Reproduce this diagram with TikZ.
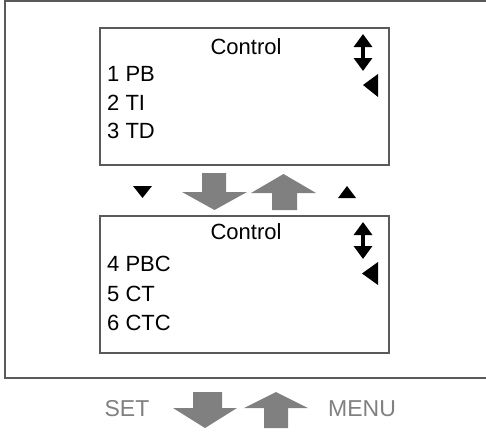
\documentclass[tikz,border=0pt]{standalone}
\usepackage{fontspec}
\setmainfont{Liberation Sans}
\usepackage{tikz}
\usetikzlibrary{positioning, arrows.meta}
\definecolor{ArrowGray}{HTML}{808080}
\definecolor{FrameGray}{HTML}{5A5A5A}
\tikzstyle{FatArrow} = [
%Grey block arrows:
fill = ArrowGray, draw = none
]

\begin{document}
\begin{tikzpicture}[x = 1pt, y = -1pt,
                    screen/.style = {draw = FrameGray, line width = 1.2pt},
                    item/.style = {anchor = west, inner sep = 0pt, font = \fontsize{22}{22}\selectfont},
                    title/.style = {inner sep = 0pt, font = \fontsize{22}{22}\selectfont},
                    key/.style = {inner sep = 0pt, text = ArrowGray, font = \fontsize{23}{23}\selectfont},
                    scroll/.style = {line width = 4pt, {Triangle[width = 18pt, length = 13pt]}-{Triangle[width = 18pt, length = 13pt]}},
                    marker/.style = {fill = black},
                   ]
  \useasboundingbox (0,0) rectangle (486,436);
  % outer frame
  \draw[screen] (492,1) -- (5,1) -- (5,378) -- (492,378);

  % first screen
  \draw[screen] (100,28) rectangle (389,165);
  \node[title] (T1) at (246,47) {Control};
  \node[item] (PB) at (107,74) {1 PB};
  \node[item] (TI) at (107,103) {2 TI};
  \node[item] (TD) at (107,131) {3 TD};
  \draw[scroll] (363,34) -- (363,71);
  \fill[marker] (363,85) -- (378,74) -- (378,97) -- cycle;

  % between the screens
  \fill[marker] (133,186) -- (152,186) -- (142.5,198) -- cycle;
  \fill[marker] (338,198) -- (356,198) -- (347,186) -- cycle;
  \fill[FatArrow] (202,173) -- (226,173) -- (226,192) -- (247,192) -- (214.5,210) -- (182,192) -- (202,192) -- cycle;
  \fill[FatArrow] (272,210) -- (297,210) -- (297,193) -- (316,193) -- (283.5,174) -- (251,193) -- (272,193) -- cycle;

  % second screen
  \draw[screen] (100,216) rectangle (389,353);
  \node[title] (T2) at (246,232) {Control};
  \node[item] (PBC) at (107,264) {4 PBC};
  \node[item] (CT) at (107,294) {5 CT};
  \node[item] (CTC) at (107,323) {6 CTC};
  \draw[scroll] (363,222) -- (363,259);
  \fill[marker] (362,273.5) -- (378,262) -- (378,285) -- cycle;

  % keys
  \node[key] (SET) at (127,409) {SET};
  \node[key] (MENU) at (362,409) {MENU};
  \fill[FatArrow] (193,392) -- (222,392) -- (222,408) -- (237,408) -- (205,428) -- (173,408) -- (193,408) -- cycle;
  \fill[FatArrow] (264,428) -- (288,428) -- (288,408) -- (308,408) -- (276,392) -- (244,408) -- (264,408) -- cycle;
\end{tikzpicture}
\end{document}
